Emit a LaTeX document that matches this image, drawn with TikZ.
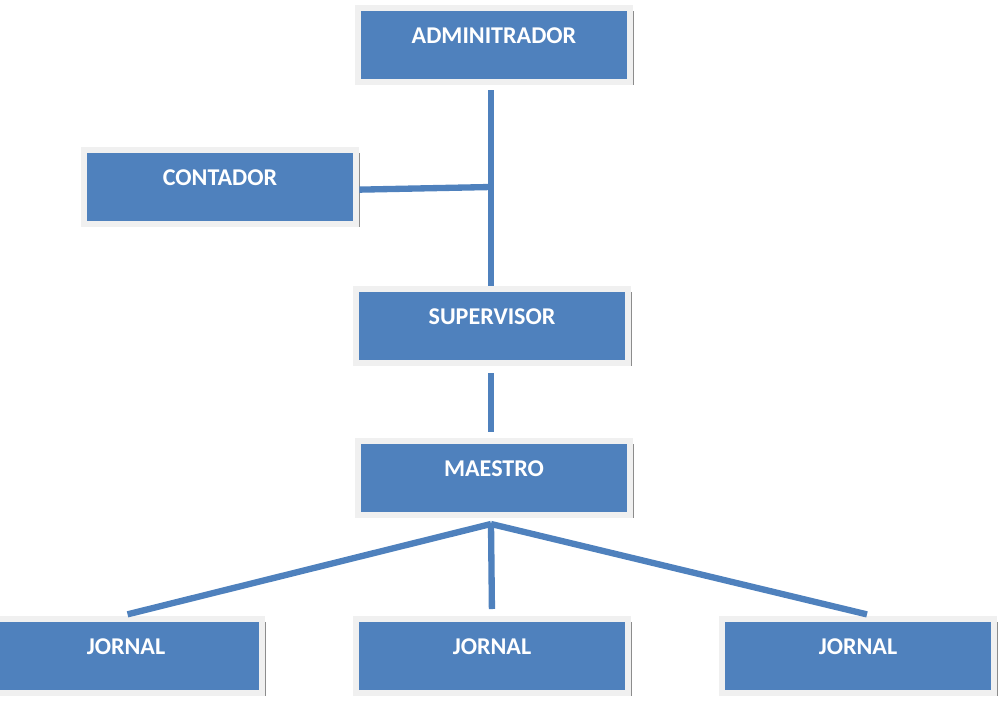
\documentclass[tikz,border=0pt]{standalone}
\usepackage{fontspec}
\setmainfont{Carlito}
\usetikzlibrary{shadows}
\definecolor{azul}{HTML}{4F81BD}

\begin{document}
\begin{tikzpicture}[x=0.02cm,y=-0.02cm,
  cargo/.style={rectangle,fill=azul,draw=black!6,line width=3.4pt,
    minimum width=155.3pt,inner sep=0pt,text height=20.2pt,text depth=21.9pt,
    text=white,font=\fontsize{13.7}{16}\selectfont\bfseries,
    drop shadow={shadow xshift=1.8pt,shadow yshift=-1.8pt,fill=black!45,opacity=1}},
  enlace/.style={azul,line width=3.6pt}]
\useasboundingbox (0,0) rectangle (1000,700);
\node[cargo] (admin) at (494,45) {ADMINITRADOR};
\node[cargo] (contador) at (220,187) {CONTADOR};
\node[cargo] (super) at (492,326) {SUPERVISOR};
\node[cargo] (maestro) at (494,478) {MAESTRO};
\foreach \x/\n in {126/j1,492/j2,858/j3}
{       \node[cargo] (\n) at (\x,656) {JORNAL};
}
\coordinate (union) at (491,187);
\draw [enlace,shorten <=3pt] (admin.south -| union) -- (super.north -| union);
\draw [enlace] ([yshift=-1.5pt]contador.east) -- (union);
\draw [enlace,shorten <=4pt,shorten >=3.4pt] (super.south -| union) -- (maestro.north -| union);
\path (maestro.south -| union) ++(0,6) coordinate (abanico);
\foreach \n/\d in {j1/-3,j2/0,j3/9}
{       \draw [enlace,shorten >=4pt] (abanico) -- ([xshift=\d pt]\n.north);
}
\end{tikzpicture}
\end{document}
